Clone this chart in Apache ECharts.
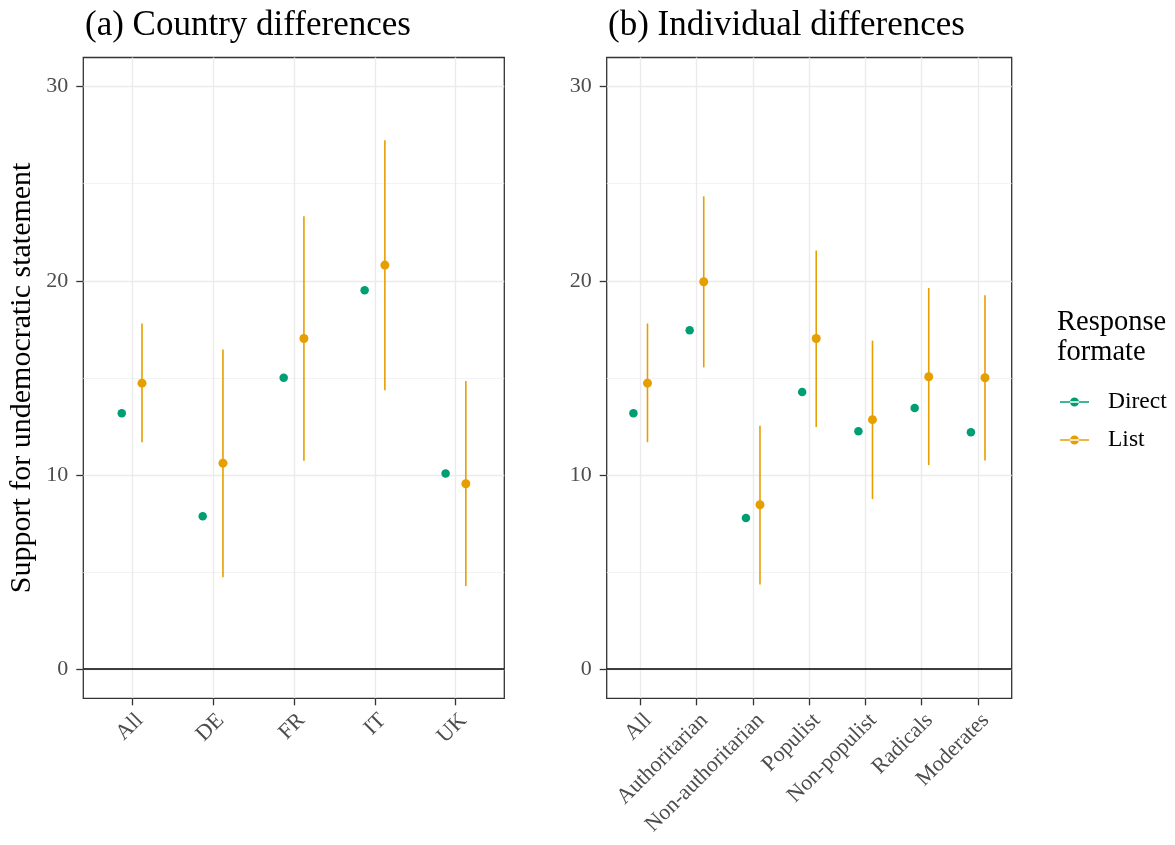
<!DOCTYPE html>
<html><head><meta charset="utf-8">
<script src="https://cdn.jsdelivr.net/npm/echarts@6/dist/echarts.min.js"></script>
<style>html,body{margin:0;padding:0;background:#fff}#c{width:1175px;height:845px}</style>
</head><body><div id="c"></div>
<script>
// ---------- data ----------
const countryCats = ['All', 'DE', 'FR', 'IT', 'UK'];
const countryDirect = [13.18, 7.87, 15.01, 19.51, 10.08];
const countryList = [14.73, 10.61, 17.03, 20.81, 9.55];
const countryListLow = [11.69, 4.74, 10.73, 14.37, 4.28];
const countryListHigh = [17.80, 16.46, 23.32, 27.24, 14.84];

const indivCats = ['All', 'Authoritarian', 'Non-authoritarian', 'Populist', 'Non-populist', 'Radicals', 'Moderates'];
const indivDirect = [13.18, 17.45, 7.79, 14.27, 12.25, 13.45, 12.20];
const indivList = [14.73, 19.95, 8.47, 17.03, 12.85, 15.06, 15.01];
const indivListLow = [11.69, 15.54, 4.36, 12.47, 8.76, 10.51, 10.74];
const indivListHigh = [17.80, 24.35, 12.54, 21.56, 16.92, 19.63, 19.25];

const yTicks = [0, 10, 20, 30];
const yMinorTicks = [5, 15, 25];
const panelTitles = ['(a) Country differences', '(b) Individual differences'];
const yTitle = 'Support for undemocratic statement';
const legendTitle = 'Response\nformate';

// ---------- style ----------
const FONT = '"Liberation Serif", "Times New Roman", serif';
const GREEN = '#009E73';
const ORANGE = '#E69F00';
const DODGE = 0.125;
const Y_MIN = -1.5, Y_MAX = 31.5;

const chart = echarts.init(document.getElementById('c'), null, { renderer: 'canvas' });

const panels = [
  { cats: countryCats, direct: countryDirect, list: countryList, lo: countryListLow, hi: countryListHigh, left: 83.3, width: 421 },
  { cats: indivCats, direct: indivDirect, list: indivList, lo: indivListLow, hi: indivListHigh, left: 606.7, width: 405 }
];

const grids = [], xAxes = [], yAxes = [], series = [];
panels.forEach((p, k) => {
  grids.push({ left: p.left, top: 57.5, width: p.width, height: 640.8, show: true,
    borderColor: '#333333', borderWidth: 1.3, backgroundColor: '#fff', containLabel: false });
  const idx = p.cats.map((_, i) => i);
  xAxes.push({
    type: 'value', gridIndex: k, min: -0.6, max: p.cats.length - 1 + 0.6, position: 'bottom',
    axisLine: { show: false, onZero: false },
    axisTick: { show: true, customValues: idx, length: 7, lineStyle: { color: '#333333', width: 1.3 } },
    axisLabel: { show: true, customValues: idx, rotate: 45, margin: 11, verticalAlign: 'top', align: 'right',
      fontSize: 22, fontFamily: FONT, color: '#4d4d4d',
      formatter: v => p.cats[Math.round(v)] },
    splitLine: { show: true, lineStyle: { color: '#ebebeb', width: 1.4 } }
  });
  yAxes.push({
    type: 'value', gridIndex: k, min: Y_MIN, max: Y_MAX, position: 'left',
    axisLine: { show: false, onZero: false },
    axisTick: { show: true, customValues: yTicks, length: 7, lineStyle: { color: '#333333', width: 1.3 } },
    axisLabel: { show: true, customValues: yTicks, margin: 15, fontSize: 22, fontFamily: FONT, color: '#4d4d4d' },
    splitLine: { show: true, lineStyle: { color: '#ebebeb', width: 1.4 } },
    name: k === 0 ? yTitle : '', nameLocation: 'middle', nameGap: 46, nameRotate: 90,
    nameTextStyle: { fontSize: 30, fontFamily: FONT, color: '#000' }
  });
});
// minor horizontal grid lines via extra hidden y axes
panels.forEach((p, k) => {
  yAxes.push({
    type: 'value', gridIndex: k, min: Y_MIN, max: Y_MAX, position: 'right',
    axisLine: { show: false, onZero: false },
    axisTick: { show: false, customValues: yMinorTicks },
    axisLabel: { show: false, customValues: yMinorTicks },
    splitLine: { show: true, lineStyle: { color: '#f0f0f0', width: 0.8 } }
  });
});

panels.forEach((p, k) => {
  // error bars (List)
  series.push({
    name: 'List', type: 'custom', xAxisIndex: k, yAxisIndex: k, z: 3, silent: true,
    data: p.cats.map((_, i) => [i + DODGE, p.lo[i], p.hi[i]]),
    encode: { x: 0, y: [1, 2] },
    renderItem: (params, api) => {
      const a = api.coord([api.value(0), api.value(1)]);
      const b = api.coord([api.value(0), api.value(2)]);
      return { type: 'line', shape: { x1: a[0], y1: a[1], x2: b[0], y2: b[1] },
        style: { stroke: ORANGE, lineWidth: 1.6 } };
    }
  });
  series.push({
    name: 'Direct', type: 'scatter', xAxisIndex: k, yAxisIndex: k, z: 4, silent: true,
    symbolSize: 8.5, itemStyle: { color: GREEN, opacity: 1 },
    data: p.cats.map((_, i) => [i - DODGE, p.direct[i]]),
    markLine: { silent: true, symbol: 'none', label: { show: false },
      lineStyle: { color: '#000', width: 1.5, type: 'solid' }, data: [{ yAxis: 0 }] }
  });
  series.push({
    name: 'List', type: 'scatter', xAxisIndex: k, yAxisIndex: k, z: 5, silent: true,
    symbolSize: 9, itemStyle: { color: ORANGE, opacity: 1 },
    data: p.cats.map((_, i) => [i + DODGE, p.list[i]])
  });
});

const keyIcon = 'path://M0,4.3H29V5.7H0Z M10,5A4.5,4.5 0 1,0 19,5A4.5,4.5 0 1,0 10,5Z';

chart.setOption({
  animation: false,
  backgroundColor: '#fff',
  title: [
    { text: panelTitles[0], left: 80, top: 3, textStyle: { fontSize: 35, fontWeight: 'normal', fontFamily: FONT, color: '#000' } },
    { text: panelTitles[1], left: 603, top: 3, textStyle: { fontSize: 35, fontWeight: 'normal', fontFamily: FONT, color: '#000' } },
    { text: legendTitle, left: 1052, top: 303, textStyle: { fontSize: 28.5, lineHeight: 30, fontWeight: 'normal', fontFamily: FONT, color: '#000' } }
  ],
  legend: {
    orient: 'vertical', left: 1055, top: 385, itemWidth: 29, itemHeight: 10, itemGap: 14,
    selectedMode: false,
    data: [
      { name: 'Direct', icon: keyIcon, itemStyle: { color: GREEN } },
      { name: 'List', icon: keyIcon, itemStyle: { color: ORANGE } }
    ],
    textStyle: { fontSize: 23.5, fontFamily: FONT, color: '#000', padding: [0, 0, 0, 14] }
  },
  grid: grids, xAxis: xAxes, yAxis: yAxes, series: series
});
</script></body></html>
